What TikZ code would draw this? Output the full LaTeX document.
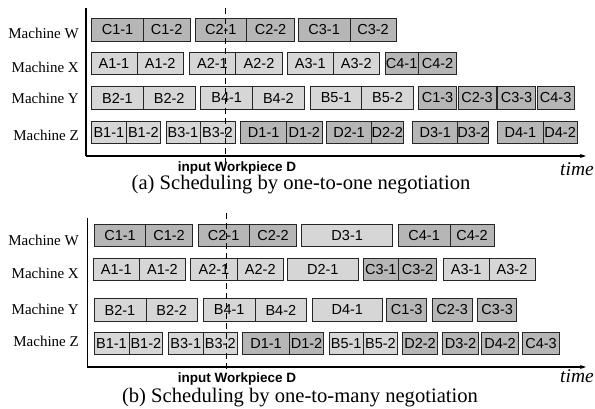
\documentclass[tikz,border=0pt]{standalone}
\usepackage{fontspec}
\setmainfont{Liberation Serif}
\newfontfamily\jobfont{Liberation Sans}
\usetikzlibrary{arrows.meta}

\definecolor{jobdark}{HTML}{B6B6B6}
\definecolor{joblight}{HTML}{D6D6D6}

% \jobbox{name}{style}{left x}{right x}{row centre y}{label}
\newcommand\jobbox[6]{%
  \pgfmathsetmacro\jw{#4-#3}%
  \pgfmathsetmacro\jx{(#3+#4)/2}%
  \node[#2,minimum width=\jw pt] (#1) at (\jx,#5) {#6};}

\begin{document}
\begin{tikzpicture}[x=1pt,y=-1pt,
  job/.style={draw=black!85,line width=0.9pt,inner sep=0pt,minimum height=22.5pt,
              font=\jobfont\fontsize{14.5}{14.5}\selectfont},
  dk/.style={job,fill=jobdark},
  lt/.style={job,fill=joblight},
  machine/.style={anchor=base east,font=\fontsize{15}{15}\selectfont,inner sep=0pt},
  axis/.style={line width=1.3pt},
  marker/.style={line width=1.4pt,dash pattern=on 6pt off 4pt},
  inputlbl/.style={anchor=base,inner sep=0pt,font=\jobfont\bfseries\fontsize{13.5}{13.5}\selectfont},
  caption/.style={anchor=base,inner sep=0pt,font=\fontsize{20.6}{20.6}\selectfont},
  timelbl/.style={anchor=base east,inner sep=0pt,font=\itshape\fontsize{19.5}{19.5}\selectfont}]
\useasboundingbox (0,0) rectangle (595,409);

% ---------------- (a) one-to-one negotiation ----------------
\node[machine] (aW) at (79,39) {Machine W};
\node[machine] (aX) at (79,72.5) {Machine X};
\node[machine] (aY) at (79,104) {Machine Y};
\node[machine] (aZ) at (79,141) {Machine Z};

\coordinate (aTop) at (86,8);
\coordinate (aO) at (86,156);
\coordinate (aEnd) at (586,156);
\draw[axis] (aTop) -- (aO);
\draw[axis,-{Stealth[length=6pt,width=4pt]}] (aO) -- (aEnd);

% machine W
\jobbox{aC11}{dk}{91.7}{143.3}{30}{C1-1}
\jobbox{aC12}{dk}{143.3}{190}{30}{C1-2}
\jobbox{aC21}{dk}{195}{246.7}{30}{C2-1}
\jobbox{aC22}{dk}{246.7}{294.5}{30}{C2-2}
\jobbox{aC31}{dk}{298.3}{350}{30}{C3-1}
\jobbox{aC32}{dk}{350}{396}{30}{C3-2}
% machine X
\jobbox{aA11}{lt}{91}{137}{63.5}{A1-1}
\jobbox{aA12}{lt}{137}{183.5}{63.5}{A1-2}
\jobbox{aA21}{lt}{189.3}{235.5}{63.5}{A2-1}
\jobbox{aA22}{lt}{235.5}{282.5}{63.5}{A2-2}
\jobbox{aA31}{lt}{287.3}{333.3}{63.5}{A3-1}
\jobbox{aA32}{lt}{333.3}{379.3}{63.5}{A3-2}
\jobbox{aC41}{dk}{385}{418.3}{63.5}{C4-1}
\jobbox{aC42}{dk}{418.3}{456.7}{63.5}{C4-2}
% machine Y
\jobbox{aB21}{lt}{91.7}{143.3}{98}{B2-1}
\jobbox{aB22}{lt}{143.3}{195}{98}{B2-2}
\jobbox{aB41}{lt}{200.7}{252.7}{98}{B4-1}
\jobbox{aB42}{lt}{252.7}{304}{98}{B4-2}
\jobbox{aB51}{lt}{310.5}{361.7}{98}{B5-1}
\jobbox{aB52}{lt}{361.7}{413.3}{98}{B5-2}
\jobbox{aC13}{dk}{418.3}{456.7}{98}{C1-3}
\jobbox{aC23}{dk}{458}{496}{98}{C2-3}
\jobbox{aC33}{dk}{497.5}{535.5}{98}{C3-3}
\jobbox{aC43}{dk}{537.3}{574}{98}{C4-3}
% machine Z
\jobbox{aB11}{lt}{91.7}{126}{132.5}{B1-1}
\jobbox{aB12}{lt}{126}{160.7}{132.5}{B1-2}
\jobbox{aB31}{lt}{166}{200}{132.5}{B3-1}
\jobbox{aB32}{lt}{200}{235}{132.5}{B3-2}
\jobbox{aD11}{dk}{240.7}{286.7}{132.5}{D1-1}
\jobbox{aD12}{dk}{286.7}{322}{132.5}{D1-2}
\jobbox{aD21}{dk}{326.5}{371.7}{132.5}{D2-1}
\jobbox{aD22}{dk}{371.7}{403}{132.5}{D2-2}
\jobbox{aD31}{dk}{412.5}{458}{132.5}{D3-1}
\jobbox{aD32}{dk}{458}{488}{132.5}{D3-2}
\jobbox{aD41}{dk}{497.5}{543.3}{132.5}{D4-1}
\jobbox{aD42}{dk}{543.3}{577}{132.5}{D4-2}

\coordinate (aDtop) at (225.5,8);
\coordinate (aDbot) at (225.5,162);
\draw[marker] (aDtop) -- (aDbot);
\node[inputlbl] (aIn) at (237,172) {input Workpiece D};
\node[timelbl] (aTime) at (594,176) {time};
\node[caption] (aCap) at (301,190) {(a) Scheduling by one-to-one negotiation};

% ---------------- (b) one-to-many negotiation ----------------
\node[machine] (bW) at (79,245) {Machine W};
\node[machine] (bX) at (79,279) {Machine X};
\node[machine] (bY) at (79,314) {Machine Y};
\node[machine] (bZ) at (79,346) {Machine Z};

\coordinate (bTop) at (87.3,218);
\coordinate (bO) at (87.3,367);
\coordinate (bEnd) at (586,367);
\draw[axis] (bTop) -- (bO);
\draw[axis,-{Stealth[length=6pt,width=4pt]}] (bO) -- (bEnd);

% machine W
\jobbox{bC11}{dk}{94.3}{145.7}{235.5}{C1-1}
\jobbox{bC12}{dk}{145.7}{192.3}{235.5}{C1-2}
\jobbox{bC21}{dk}{198}{249.3}{235.5}{C2-1}
\jobbox{bC22}{dk}{249.3}{296.7}{235.5}{C2-2}
\jobbox{bD31}{lt}{301.7}{392.7}{235.5}{D3-1}
\jobbox{bC41}{dk}{398.3}{450}{235.5}{C4-1}
\jobbox{bC42}{dk}{450}{494}{235.5}{C4-2}
% machine X
\jobbox{bA11}{lt}{93.3}{139.3}{269.5}{A1-1}
\jobbox{bA12}{lt}{139.3}{185.7}{269.5}{A1-2}
\jobbox{bA21}{lt}{190.7}{237.3}{269.5}{A2-1}
\jobbox{bA22}{lt}{237.3}{283.3}{269.5}{A2-2}
\jobbox{bD21}{lt}{287.3}{358.3}{269.5}{D2-1}
\jobbox{bC31}{dk}{363.3}{398.3}{269.5}{C3-1}
\jobbox{bC32}{dk}{398.3}{436.7}{269.5}{C3-2}
\jobbox{bA31}{lt}{443.3}{489}{269.5}{A3-1}
\jobbox{bA32}{lt}{489}{535}{269.5}{A3-2}
% machine Y
\jobbox{bB21}{lt}{94}{146}{310}{B2-1}
\jobbox{bB22}{lt}{146}{197.3}{310}{B2-2}
\jobbox{bB41}{lt}{203.3}{255}{310}{B4-1}
\jobbox{bB42}{lt}{255}{306.7}{310}{B4-2}
\jobbox{bD41}{lt}{312}{382.5}{310}{D4-1}
\jobbox{bC13}{dk}{386.7}{426.7}{310}{C1-3}
\jobbox{bC23}{dk}{432.2}{472.2}{310}{C2-3}
\jobbox{bC33}{dk}{477.7}{516.7}{310}{C3-3}
% machine Z
\jobbox{bB11}{lt}{94}{129}{343.5}{B1-1}
\jobbox{bB12}{lt}{129}{162.7}{343.5}{B1-2}
\jobbox{bB31}{lt}{168.3}{203.3}{343.5}{B3-1}
\jobbox{bB32}{lt}{203.3}{237.3}{343.5}{B3-2}
\jobbox{bD11}{dk}{242.7}{289.3}{343.5}{D1-1}
\jobbox{bD12}{dk}{289.3}{323.7}{343.5}{D1-2}
\jobbox{bB51}{lt}{329.3}{363}{343.5}{B5-1}
\jobbox{bB52}{lt}{363}{397.8}{343.5}{B5-2}
\jobbox{bD22}{dk}{402.5}{437.5}{343.5}{D2-2}
\jobbox{bD32}{dk}{442.8}{478.3}{343.5}{D3-2}
\jobbox{bD42}{dk}{481.7}{518.3}{343.5}{D4-2}
\jobbox{bC43}{dk}{522.7}{559.3}{343.5}{C4-3}

\coordinate (bDtop) at (226.3,213);
\coordinate (bDbot) at (226.3,372);
\draw[marker] (bDtop) -- (bDbot);
\node[inputlbl] (bIn) at (237,382) {input Workpiece D};
\node[timelbl] (bTime) at (594,382) {time};
\node[caption] (bCap) at (300,402.5) {(b) Scheduling by one-to-many negotiation};
\end{tikzpicture}
\end{document}
